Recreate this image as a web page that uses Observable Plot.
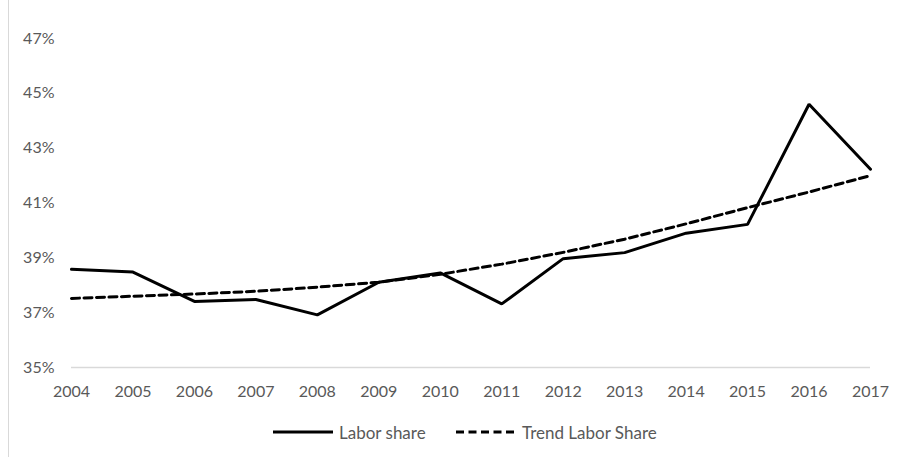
<!DOCTYPE html>
<html>
<head>
<meta charset="utf-8">
<script src="https://cdn.jsdelivr.net/npm/d3@7"></script>
<script src="https://cdn.jsdelivr.net/npm/@observablehq/plot@0.6"></script>
<style>
  html, body { margin: 0; padding: 0; background: #fff; }
  body { width: 899px; height: 457px; position: relative; overflow: hidden; font-family: Lato, "Open Sans", sans-serif; }
  #frame { position: absolute; left: 8px; top: 0; width: 1px; height: 457px; background: #d9d9d9; }
  #legend { position: absolute; left: 0; top: 410px; width: 899px; height: 47px; font-size: 17px; color: #595959; }
  .item { position: absolute; top: 11px; display: flex; align-items: center; height: 22px; }
  .item svg { margin-right: 6px; }
</style>
</head>
<body>
<div id="frame"></div>
<div id="chart"></div>
<div id="legend"></div>
<script>
const years = [2004, 2005, 2006, 2007, 2008, 2009, 2010, 2011, 2012, 2013, 2014, 2015, 2016, 2017];
const laborShare = [38.58, 38.48, 37.41, 37.48, 36.92, 38.11, 38.45, 37.32, 38.97, 39.19, 39.90, 40.22, 44.60, 42.23];
const trendLaborShare = [37.52, 37.60, 37.68, 37.78, 37.93, 38.11, 38.40, 38.77, 39.20, 39.68, 40.24, 40.83, 41.40, 42.00];
const yTicks = [35, 37, 39, 41, 43, 45, 47];
const seriesNames = ["Labor share", "Trend Labor Share"];

const solid = years.map((y, i) => ({year: y, value: laborShare[i]}));
const trend = years.map((y, i) => ({year: y, value: trendLaborShare[i]}));

const chart = Plot.plot({
  width: 899,
  height: 410,
  marginLeft: 71,
  marginRight: 29,
  marginTop: 38,
  marginBottom: 43,
  style: {fontFamily: "Lato, 'Open Sans', sans-serif", fontSize: "16px", color: "#595959", background: "#fff"},
  x: {type: "linear", domain: [2004, 2017], ticks: years, tickFormat: d => String(d), tickSize: 0, tickPadding: 18, label: null},
  y: {domain: [35, 47], ticks: yTicks, tickFormat: d => d + "%", tickSize: 0, tickPadding: 17, label: null},
  marks: [
    Plot.ruleY([35], {stroke: "#d9d9d9", strokeWidth: 1.3}),
    Plot.line(trend, {x: "year", y: "value", stroke: "#000", strokeWidth: 3, strokeDasharray: "8,4.5"}),
    Plot.line(solid, {x: "year", y: "value", stroke: "#000", strokeWidth: 3, strokeLinejoin: "miter"})
  ]
});
document.getElementById("chart").appendChild(chart);

const legend = document.getElementById("legend");
const positions = [273, 456];
seriesNames.forEach((name, i) => {
  const item = document.createElement("div");
  item.className = "item";
  item.style.left = positions[i] + "px";
  const dash = i === 1 ? ' stroke-dasharray="8,4.5"' : '';
  item.innerHTML = `<svg width="60" height="6"><line x1="0" y1="3" x2="60" y2="3" stroke="#000" stroke-width="3"${dash}/></svg><span>${name}</span>`;
  legend.appendChild(item);
});
</script>
</body>
</html>
